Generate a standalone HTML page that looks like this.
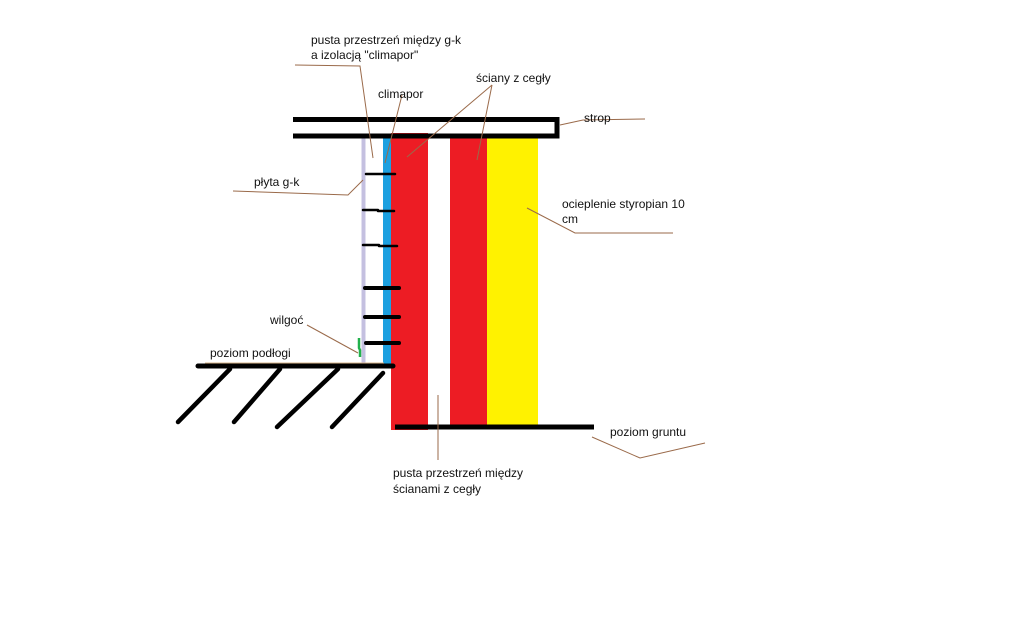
<!DOCTYPE html>
<html><head><meta charset="utf-8"><style>
html,body{margin:0;padding:0;background:#fff;width:1029px;height:640px;overflow:hidden}
svg text{font-family:"Liberation Sans","DejaVu Sans",sans-serif;font-size:12px;fill:#111}
</style></head><body>
<svg width="1029" height="640" viewBox="0 0 1029 640" xmlns="http://www.w3.org/2000/svg">
<!-- walls -->
<rect x="391" y="133" width="37" height="297" fill="#ed1c24"/>
<rect x="450" y="137" width="37" height="288" fill="#ed1c24"/>
<rect x="487" y="137" width="51" height="288" fill="#fff200"/>
<rect x="383" y="136" width="8" height="232" fill="#1ca0e0"/>
<rect x="361.5" y="136" width="4" height="232" rx="2" fill="#c4c0e0"/>
<!-- strop -->
<g stroke="#000" stroke-width="5" fill="none">
<polyline points="293,119.5 557,119.5 557,136 293,136"/>
<line x1="395" y1="427" x2="594" y2="427"/>
<line x1="198" y1="366" x2="393" y2="366" stroke-linecap="round"/>
<g stroke-linecap="round" stroke-width="4.5">
<line x1="230" y1="369" x2="178" y2="422"/>
<line x1="280" y1="369" x2="234" y2="422"/>
<line x1="338" y1="369" x2="277" y2="427"/>
<line x1="383" y1="373" x2="332" y2="427"/>
</g>
</g>
<!-- ties -->
<g stroke="#000" stroke-linecap="round">
<line x1="366" y1="174" x2="395" y2="174" stroke-width="2.5"/>
<line x1="363" y1="210" x2="378" y2="210" stroke-width="2.5"/>
<line x1="378" y1="211" x2="394" y2="211" stroke-width="2.5"/>
<line x1="363" y1="245" x2="379" y2="245" stroke-width="2.5"/>
<line x1="379" y1="246" x2="397" y2="246" stroke-width="2.5"/>
<line x1="365" y1="288" x2="399" y2="288" stroke-width="4"/>
<line x1="365" y1="317" x2="399" y2="317" stroke-width="4"/>
<line x1="366" y1="343" x2="399" y2="343" stroke-width="4"/>
</g>
<!-- green -->
<polyline points="359,338 359,348 360,350 360,357" stroke="#22b14c" stroke-width="2.5" fill="none"/>
<!-- floor tan line -->
<line x1="205" y1="363" x2="384" y2="363" stroke="#d8b48a" stroke-width="1"/>
<!-- leaders -->
<g stroke="#9a6a4a" stroke-width="1" fill="none">
<polyline points="295,65 360,66 373,158"/>
<polyline points="402,95 385,163"/>
<polyline points="492,85 407,157"/>
<polyline points="492,85 477,160"/>
<polyline points="560,125 583,120 645,119"/>
<polyline points="233,191 348,195 363,180"/>
<polyline points="527,208 575,233 673,233"/>
<polyline points="592,437 640,458 705,443"/>
<polyline points="307,325 358,353"/>
<polyline points="438,395 438,460"/>
</g>
<!-- labels -->
<text x="311" y="44">pusta przestrzeń między g-k</text>
<text x="311" y="59">a izolacją "climapor"</text>
<text x="378" y="98">climapor</text>
<text x="476" y="82">ściany z cegły</text>
<text x="584" y="122">strop</text>
<text x="254" y="186">płyta g-k</text>
<text x="562" y="208">ocieplenie styropian 10</text>
<text x="562" y="223">cm</text>
<text x="270" y="324">wilgoć</text>
<text x="210" y="357">poziom podłogi</text>
<text x="610" y="436">poziom gruntu</text>
<text x="393" y="477">pusta przestrzeń między</text>
<text x="393" y="493">ścianami z cegły</text>
</svg>
</body></html>
